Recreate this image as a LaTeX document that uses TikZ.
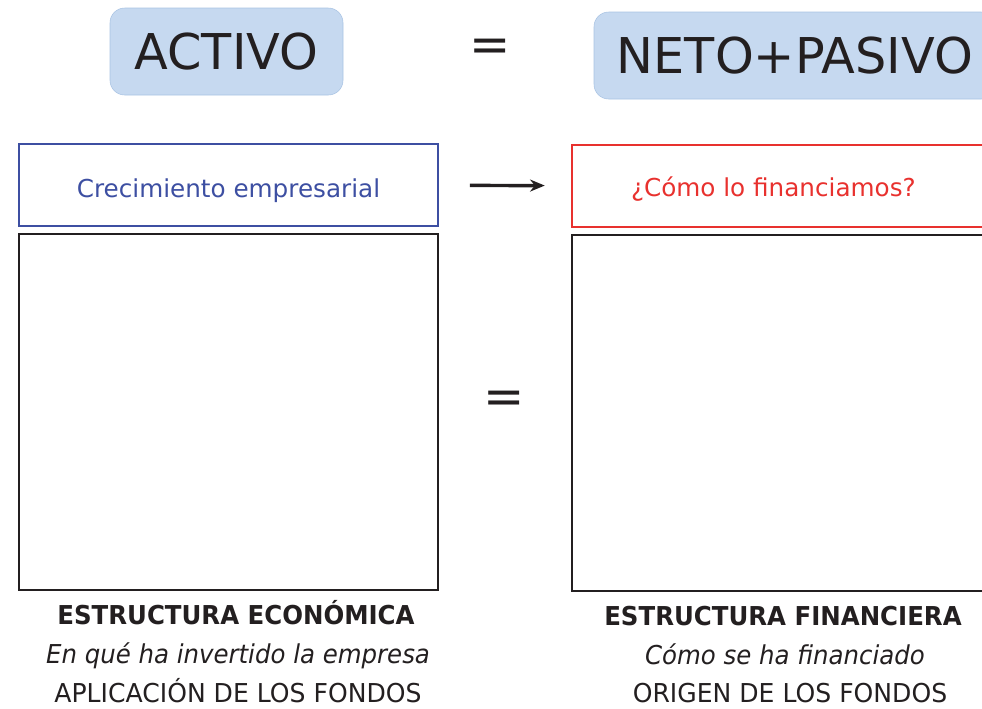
\documentclass[tikz,border=0pt]{standalone}
\usepackage{fontspec}
\setmainfont{DejaVu Sans}
\newfontfamily\narrowfont[FakeStretch=0.94]{DejaVu Sans}
\newfontfamily\plainfont[FakeStretch=0.965]{DejaVu Sans}
\usetikzlibrary{arrows.meta, positioning}

\definecolor{titlefill}{HTML}{C6D9F0}
\definecolor{titledraw}{HTML}{A9C3E3}
\definecolor{crecblue}{HTML}{3D4FA2}
\definecolor{finred}{HTML}{E8312E}
\definecolor{inkdark}{HTML}{231F20}

\begin{document}
\begin{tikzpicture}[
    x=0.75pt, y=-0.75pt,
    title/.style={rectangle, draw=titledraw, fill=titlefill, rounded corners=11pt, font=\fontsize{37}{40}\selectfont, text=inkdark, inner sep=0pt},
    equal/.style={font=\fontsize{37}{40}\selectfont, text=inkdark},
    headbox/.style={rectangle, line width=1.9pt, font=\fontsize{18.5}{20}\selectfont, minimum height=61.5pt, inner sep=0pt, text depth=0pt},
    bigbox/.style={rectangle, draw=inkdark, line width=1.9pt, minimum height=267pt, inner sep=0pt},
    caption/.style={font=\plainfont\fontsize{19.5}{22}\selectfont, text=inkdark, inner sep=0pt},
    arrow/.style={-{Stealth[length=11pt, width=9pt]}, line width=2.6pt, draw=inkdark}
]
    \clip (0,0) rectangle (982,708);

    % top line
    \node[title, minimum width=174.75pt, minimum height=65.25pt] (activo) at (226.5,51.5) {ACTIVO};
    \node[equal] (eqtop) at (490,50) {=};
    \node[title, minimum width=301.5pt, minimum height=65.25pt] (neto) at (795,55.5) {NETO+PASIVO};

    % header boxes
    \node[headbox, draw=crecblue, text=crecblue, minimum width=314.25pt, text height=19pt] (crec) at (228.5,185) {Crecimiento empresarial};
    \node[headbox, draw=finred, text=finred, minimum width=315pt, text height=16pt] (finan) at (782,186) {¿Cómo lo financiamos?\kern13pt};
    \draw[arrow, shorten <=23pt, shorten >=19.5pt] (crec) -- (finan);

    % structure boxes
    \node[bigbox, minimum width=314.25pt] (economica) at (228.5,412) {};
    \node[bigbox, minimum width=315pt] (financiera) at (782,413) {};
    \node[equal] (eqmid) at (504,402) {=};

    % captions
    \node[caption, font=\narrowfont\bfseries\fontsize{19.5}{22}\selectfont] (ecotitle) at (236,613) {ESTRUCTURA ECONÓMICA};
    \node[caption, font=\narrowfont\itshape\fontsize{19.5}{22}\selectfont] (ecoq) at (238,656) {En qué ha invertido la empresa};
    \node[caption] (ecoap) at (238,691) {APLICACIÓN DE LOS FONDOS};

    \node[caption, font=\narrowfont\bfseries\fontsize{19.5}{22}\selectfont] (fintitle) at (783,616) {ESTRUCTURA FINANCIERA};
    \node[caption, font=\narrowfont\itshape\fontsize{19.5}{22}\selectfont] (finq) at (785,654) {Cómo se ha financiado};
    \node[caption] (finor) at (790,693) {ORIGEN DE LOS FONDOS};
\end{tikzpicture}
\end{document}
